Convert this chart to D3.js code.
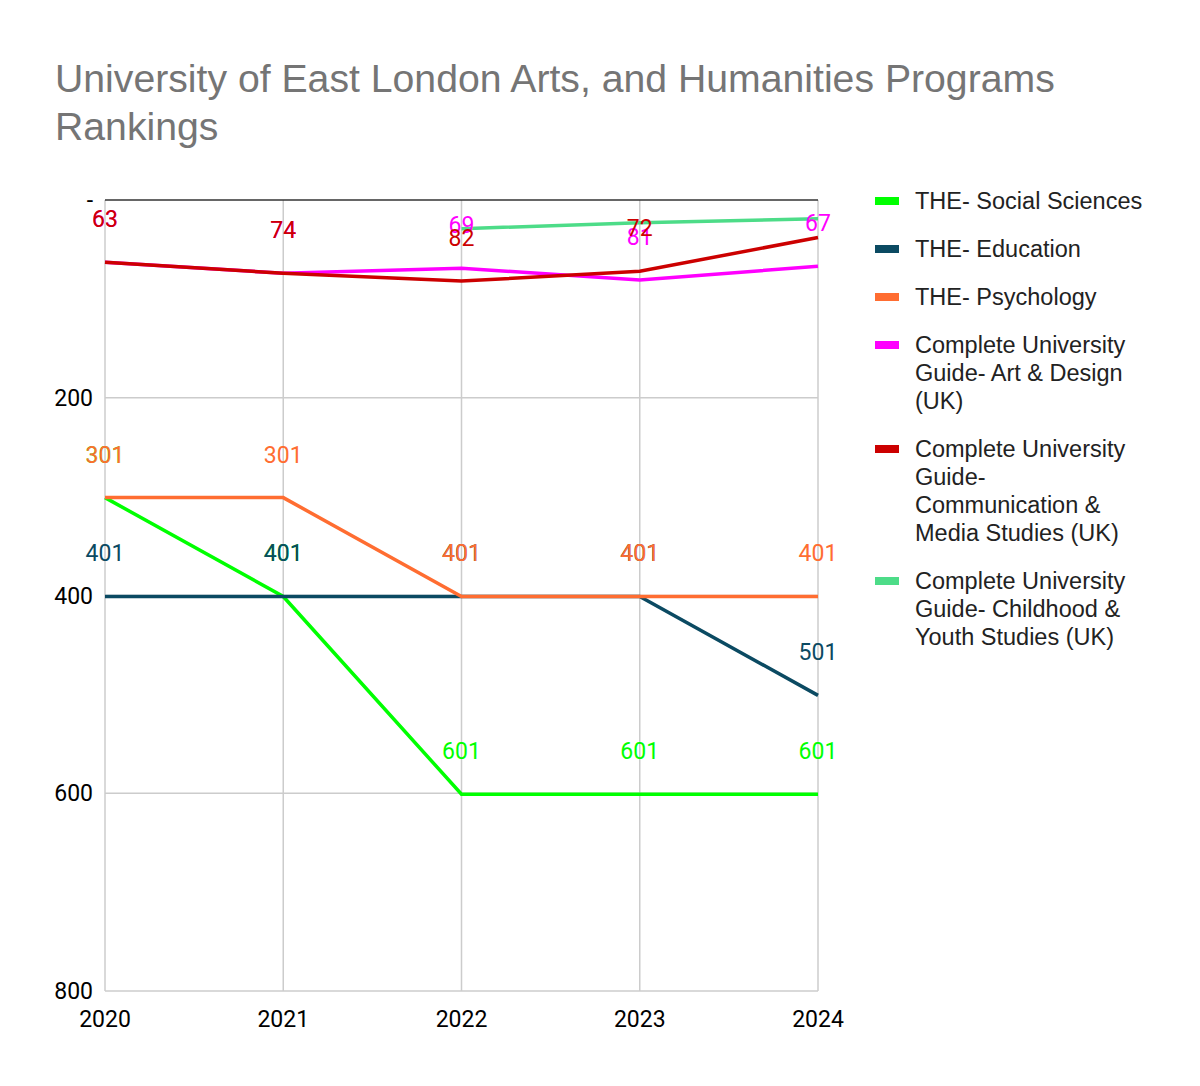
<!DOCTYPE html>
<html>
<head>
<meta charset="utf-8">
<script src="https://cdn.jsdelivr.net/npm/d3@7.9.0/dist/d3.min.js"></script>
<style>
  body { margin: 0; background: #fff; }
  svg { display: block; }
</style>
</head>
<body>
<div id="chart"></div>
<script>
// data
const years = [2020, 2021, 2022, 2023, 2024];
const yTicks = [0, 200, 400, 600, 800];
const seriesNames = [
    "THE- Social Sciences",
    "THE- Education",
    "THE- Psychology",
    "Complete University Guide- Art & Design (UK)",
    "Complete University Guide- Communication & Media Studies (UK)",
    "Complete University Guide- Childhood & Youth Studies (UK)"
];
const socialSciences = [301, 401, 601, 601, 601];
const education = [401, 401, 401, 401, 501];
const psychology = [301, 301, 401, 401, 401];
const artDesign = [63, 74, 69, 81, 67];
const commMedia = [63, 74, 82, 72, 38];
const childhood = [null, null, 29, 23, 19];
const colors = ["#00ff00", "#0b4a62", "#ff6d31", "#ff00ff", "#cc0000", "#4ddc88"];

// legend line breaks as in the picture
const legendLines = [
    ["THE- Social Sciences"],
    ["THE- Education"],
    ["THE- Psychology"],
    ["Complete University", "Guide- Art & Design", "(UK)"],
    ["Complete University", "Guide-", "Communication &", "Media Studies (UK)"],
    ["Complete University", "Guide- Childhood &", "Youth Studies (UK)"]
];

const allSeries = [socialSciences, education, psychology, artDesign, commMedia, childhood];

const width = 1200, height = 1086;
const margin = {top: 200, left: 105, right: 382, bottom: 95};
const plotW = width - margin.left - margin.right;
const plotH = height - margin.top - margin.bottom;

const svg = d3.select("#chart").append("svg")
    .attr("width", width)
    .attr("height", height);

// title
const title = svg.append("text")
    .attr("x", 55)
    .attr("y", 92)
    .attr("font-family", "Liberation Sans, Arial, sans-serif")
    .attr("font-size", 39.2)
    .attr("fill", "#757575");
title.append("tspan").attr("x", 55).attr("dy", 0)
    .text("University of East London Arts, and Humanities Programs");
title.append("tspan").attr("x", 55).attr("dy", 48).text("Rankings");

const x = d3.scalePoint()
    .domain(years)
    .range([0, plotW]);

// ranking: reversed axis, best at top
const y = d3.scaleLinear()
    .domain([0, 800])
    .range([0, plotH]);

const g = svg.append("g")
    .attr("transform", `translate(${margin.left},${margin.top})`);

// grid
g.selectAll(".hgrid")
    .data(yTicks.filter(d => d > 0))
    .join("line")
    .attr("x1", 0).attr("x2", plotW)
    .attr("y1", d => y(d)).attr("y2", d => y(d))
    .attr("stroke", "#cccccc")
    .attr("stroke-width", 1.5);

g.selectAll(".vgrid")
    .data(years)
    .join("line")
    .attr("x1", d => x(d)).attr("x2", d => x(d))
    .attr("y1", 0).attr("y2", plotH)
    .attr("stroke", "#cccccc")
    .attr("stroke-width", 1.5);

// baseline at 0
g.append("line")
    .attr("x1", 0).attr("x2", plotW)
    .attr("y1", y(0)).attr("y2", y(0))
    .attr("stroke", "#333333")
    .attr("stroke-width", 1.5);

// y labels
g.selectAll(".ylab")
    .data(yTicks)
    .join("text")
    .attr("x", -12)
    .attr("y", d => y(d) + 8)
    .attr("text-anchor", "end")
    .attr("font-family", "Roboto, sans-serif")
    .attr("font-size", 23)
    .attr("fill", "#000")
    .text(d => d === 0 ? "-" : d);

// x labels
g.selectAll(".xlab")
    .data(years)
    .join("text")
    .attr("x", d => x(d))
    .attr("y", plotH + 36)
    .attr("text-anchor", "middle")
    .attr("font-family", "Roboto, sans-serif")
    .attr("font-size", 23)
    .attr("fill", "#000")
    .text(d => d);

// lines
const line = d3.line()
    .defined(d => d.v != null)
    .x(d => x(d.year))
    .y(d => y(d.v));

allSeries.forEach((vals, i) => {
    const pts = years.map((yr, j) => ({year: yr, v: vals[j]}));
    g.append("path")
        .datum(pts)
        .attr("fill", "none")
        .attr("stroke", colors[i])
        .attr("stroke-width", 3.5)
        .attr("d", line);
});

// data labels, above each point, hidden if they would leave the plot
allSeries.forEach((vals, i) => {
    const pts = years.map((yr, j) => ({year: yr, v: vals[j]}))
        .filter(d => d.v != null && y(d.v) - 43 > 8);
    g.selectAll(null)
        .data(pts)
        .join("text")
        .attr("x", d => x(d.year))
        .attr("y", d => y(d.v) - 35)
        .attr("text-anchor", "middle")
        .attr("font-family", "Roboto, sans-serif")
        .attr("font-size", 23)
        .attr("fill", colors[i])
        .text(d => d.v);
});

// legend
const legend = svg.append("g").attr("transform", "translate(875,0)");
let ly = 201;
legendLines.forEach((lines, i) => {
    legend.append("rect")
        .attr("x", 0)
        .attr("y", ly - 4)
        .attr("width", 24)
        .attr("height", 8)
        .attr("fill", colors[i]);
    const t = legend.append("text")
        .attr("font-family", "Liberation Sans, Arial, sans-serif")
        .attr("font-size", 23.5)
        .attr("fill", "#222");
    lines.forEach((s, k) => {
        t.append("tspan")
            .attr("x", 40)
            .attr("y", ly + 8 + k * 28)
            .text(s);
    });
    ly += (lines.length - 1) * 28 + 48;
});
</script>
</body>
</html>
